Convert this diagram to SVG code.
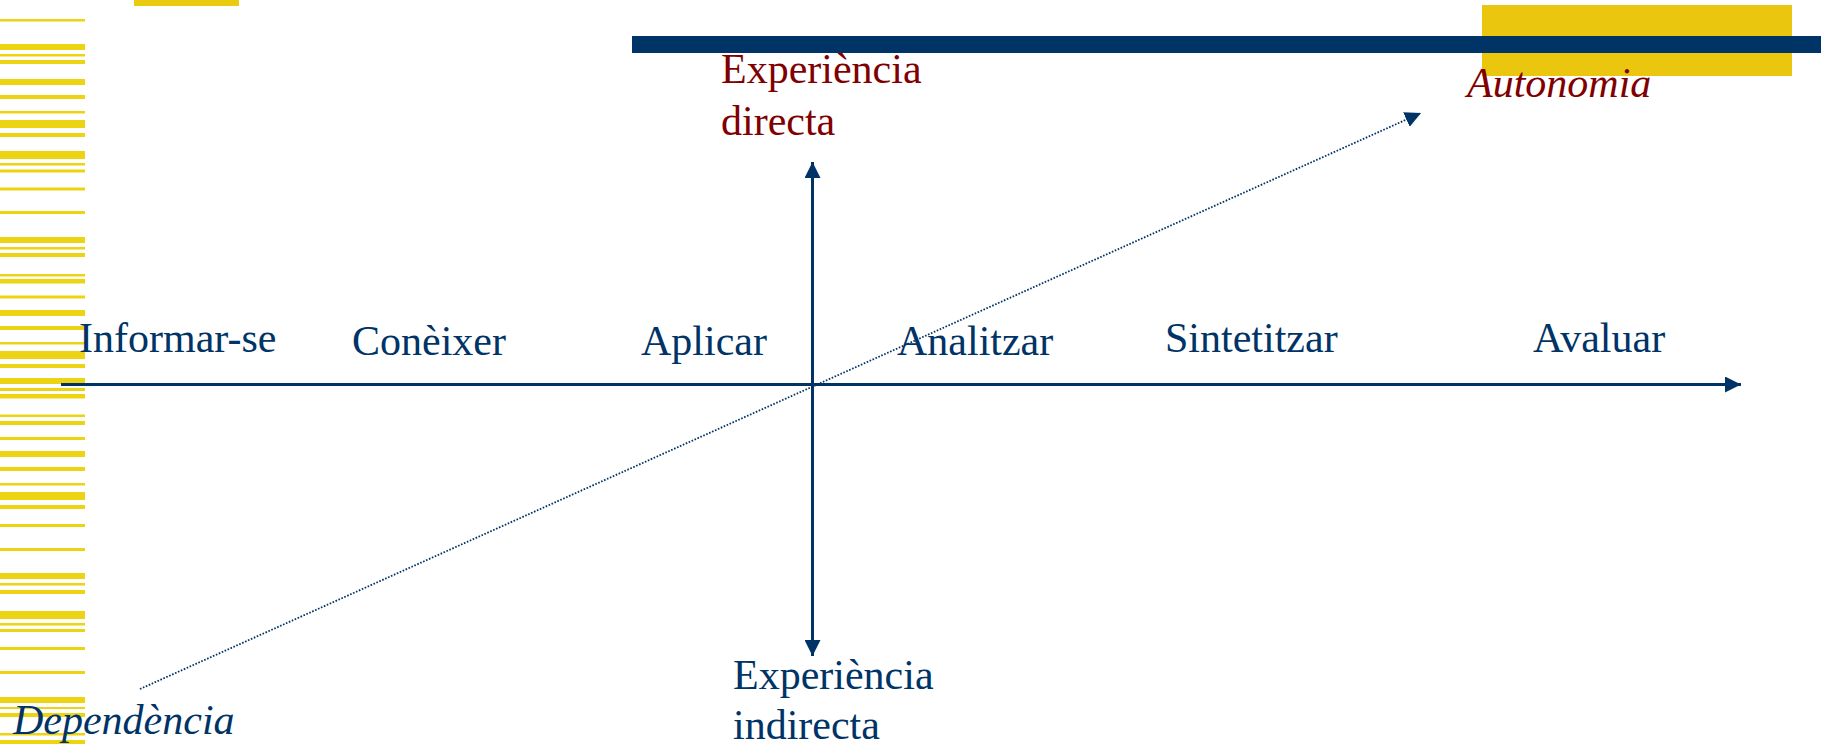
<svg xmlns="http://www.w3.org/2000/svg" width="1827" height="745" viewBox="0 0 1827 745">
<defs>
<style>
.stripe{fill:#ECD412}
.lbl{font-family:"Liberation Serif","Times New Roman",serif;font-size:42px;fill:#003366}
.red{fill:#800000}
.it{font-style:italic}
.axis{stroke:#003366;stroke-width:3;fill:none}
.dot{stroke:#003366;stroke-width:1.8;stroke-dasharray:1.6 1.6;fill:none}
</style>
<marker id="ah" viewBox="0 0 16 16" refX="16" refY="8" markerWidth="16" markerHeight="16" markerUnits="userSpaceOnUse" orient="auto">
<path d="M0,0 L16,8 L0,16 Z" fill="#003366"/>
</marker>
</defs>
<rect width="1827" height="745" fill="#ffffff"/>
<g id="decor">
<rect x="134" y="0" width="105" height="6" fill="#EBCB10"/>
<rect x="1482" y="5" width="310" height="71" fill="#EAC60F"/>
<rect x="632" y="36" width="1189" height="17" fill="#003366"/>
<g id="stripes">
<rect class="stripe" x="0" y="19" width="85" height="2.5"/>
<rect class="stripe" x="0" y="44" width="85" height="6"/>
<rect class="stripe" x="0" y="54" width="85" height="2.5"/>
<rect class="stripe" x="0" y="60" width="85" height="4"/>
<rect class="stripe" x="0" y="79" width="85" height="6"/>
<rect class="stripe" x="0" y="95" width="85" height="4"/>
<rect class="stripe" x="0" y="111" width="85" height="2.5"/>
<rect class="stripe" x="0" y="120" width="85" height="8"/>
<rect class="stripe" x="0" y="133" width="85" height="4"/>
<rect class="stripe" x="0" y="151" width="85" height="8"/>
<rect class="stripe" x="0" y="163" width="85" height="2.5"/>
<rect class="stripe" x="0" y="169.5" width="85" height="3"/>
<rect class="stripe" x="0" y="187.5" width="85" height="3"/>
<rect class="stripe" x="0" y="211" width="85" height="3"/>
<rect class="stripe" x="0" y="237" width="85" height="6"/>
<rect class="stripe" x="0" y="247" width="85" height="2.5"/>
<rect class="stripe" x="0" y="253" width="85" height="4"/>
<rect class="stripe" x="0" y="274" width="85" height="2.5"/>
<rect class="stripe" x="0" y="279" width="85" height="4.5"/>
<rect class="stripe" x="0" y="295.5" width="85" height="3"/>
<rect class="stripe" x="0" y="310" width="85" height="6"/>
<rect class="stripe" x="0" y="326" width="85" height="4"/>
<rect class="stripe" x="0" y="342" width="85" height="2.5"/>
<rect class="stripe" x="0" y="351" width="85" height="8"/>
<rect class="stripe" x="0" y="364" width="85" height="4"/>
<rect class="stripe" x="0" y="378" width="85" height="6"/>
<rect class="stripe" x="0" y="388" width="85" height="3"/>
<rect class="stripe" x="0" y="394" width="85" height="4.5"/>
<rect class="stripe" x="0" y="414.5" width="85" height="2.5"/>
<rect class="stripe" x="0" y="421" width="85" height="4"/>
<rect class="stripe" x="0" y="437" width="85" height="3"/>
<rect class="stripe" x="0" y="451" width="85" height="6"/>
<rect class="stripe" x="0" y="467" width="85" height="4"/>
<rect class="stripe" x="0" y="483" width="85" height="2.5"/>
<rect class="stripe" x="0" y="492" width="85" height="8"/>
<rect class="stripe" x="0" y="505" width="85" height="4"/>
<rect class="stripe" x="0" y="524" width="85" height="3"/>
<rect class="stripe" x="0" y="548" width="85" height="3"/>
<rect class="stripe" x="0" y="573" width="85" height="6"/>
<rect class="stripe" x="0" y="583" width="85" height="2.5"/>
<rect class="stripe" x="0" y="590" width="85" height="4"/>
<rect class="stripe" x="0" y="611" width="85" height="8"/>
<rect class="stripe" x="0" y="623" width="85" height="2.5"/>
<rect class="stripe" x="0" y="629" width="85" height="3"/>
<rect class="stripe" x="0" y="647" width="85" height="3"/>
<rect class="stripe" x="0" y="671" width="85" height="3"/>
<rect class="stripe" x="0" y="697" width="85" height="6"/>
<rect class="stripe" x="0" y="707" width="85" height="2"/>
<rect class="stripe" x="0" y="713" width="85" height="4"/>
<rect class="stripe" x="0" y="733" width="85" height="2.5"/>
<rect class="stripe" x="0" y="740" width="85" height="4"/>
</g>
</g>
<g id="connectors">
<line class="axis" x1="61" y1="384.5" x2="1741" y2="384.5" marker-end="url(#ah)"/>
<line class="axis" x1="812.5" y1="385" x2="812.5" y2="162" marker-end="url(#ah)"/>
<line class="axis" x1="812.5" y1="385" x2="812.5" y2="656" marker-end="url(#ah)"/>
<line class="dot" x1="140" y1="689" x2="1421" y2="113" marker-end="url(#ah)"/>
</g>
<g id="node-informar"><text class="lbl" x="79" y="352">Informar-se</text></g>
<g id="node-coneixer"><text class="lbl" x="352" y="355">Conèixer</text></g>
<g id="node-aplicar"><text class="lbl" x="641" y="355">Aplicar</text></g>
<g id="node-analitzar"><text class="lbl" x="897" y="355">Analitzar</text></g>
<g id="node-sintetitzar"><text class="lbl" x="1165" y="352">Sintetitzar</text></g>
<g id="node-avaluar"><text class="lbl" x="1533" y="352">Avaluar</text></g>
<g id="node-directa"><text class="lbl red" x="721" y="83">Experiència<tspan x="721" y="135">directa</tspan></text></g>
<g id="node-indirecta"><text class="lbl" x="733" y="689">Experiència<tspan x="733" y="739">indirecta</tspan></text></g>
<g id="node-autonomia"><text class="lbl red it" x="1467" y="97">Autonomia</text></g>
<g id="node-dependencia"><text class="lbl it" x="13" y="734">Dependència</text></g>
</svg>
